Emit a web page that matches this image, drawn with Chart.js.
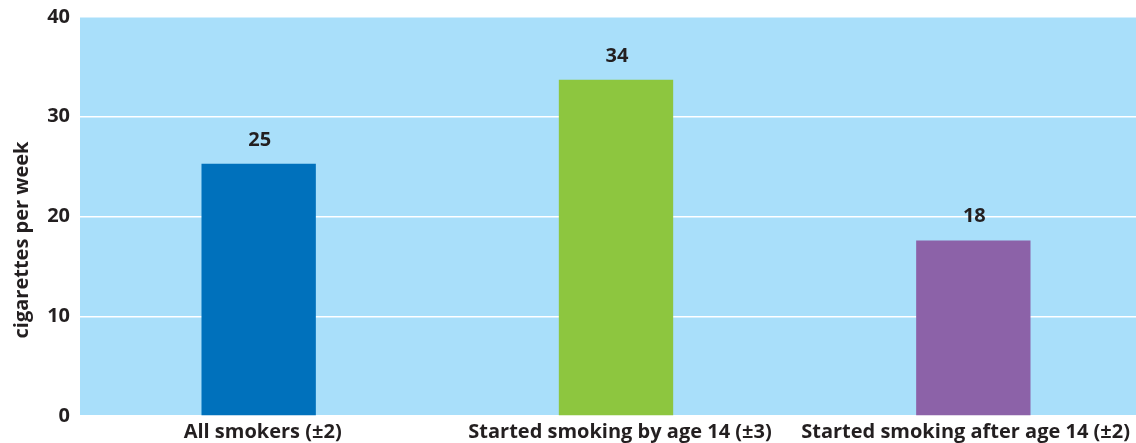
<!DOCTYPE html>
<html lang="en">
<head>
  <meta charset="UTF-8">
  <title>Cigarettes per week</title>
  <script src="https://cdn.jsdelivr.net/npm/chart.js"></script>
  <style>
    html, body { margin: 0; padding: 0; background: #fff; overflow: hidden; }
    /* plot runs a little past the right edge of the picture, as in the original */
    #wrap { width: 1152px; height: 443px; }
  </style>
</head>
<body>
  <div id="wrap"><canvas id="smokeChart"></canvas></div>

  <script>
    const categories = ['All smokers (\u00b12)', 'Started smoking by age 14 (\u00b13)', 'Started smoking after age 14 (\u00b12)'];
    const cigarettes = [25.3, 33.7, 17.6];
    const barColors = ['#0071bc', '#8dc63f', '#8c62a8'];
    const yTicks = [0, 10, 20, 30, 40];
    const yTitle = 'cigarettes per week';

    const FONT = '"Open Sans", "Noto Sans", sans-serif';
    const TEXT = '#231f20';
    const VISIBLE_W = 1136;

    // light blue plot background, value labels, category labels, rotated y title
    const decor = {
      id: 'decor',
      beforeDraw(chart) {
        const { ctx, chartArea: a } = chart;
        ctx.save();
        ctx.fillStyle = '#a9dffa';
        ctx.fillRect(a.left, a.top, a.right - a.left, a.bottom - a.top);
        ctx.restore();
      },
      afterDatasetsDraw(chart) {
        const { ctx, chartArea: a } = chart;
        const xScale = chart.scales.x;
        const meta = chart.getDatasetMeta(0);
        ctx.save();
        ctx.font = `bold 20px ${FONT}`;
        ctx.fillStyle = TEXT;
        ctx.textAlign = 'center';
        ctx.textBaseline = 'alphabetic';
        meta.data.forEach((bar, i) => {
          ctx.fillText(Math.round(cigarettes[i]), bar.x + 1, bar.y - 18);
        });
        // category labels, kept inside the visible width
        categories.forEach((lab, i) => {
          const w = ctx.measureText(lab).width;
          let x = xScale.getPixelForTick(i) + 4;
          x = Math.min(x, VISIBLE_W - 6 - w / 2);
          ctx.fillText(lab, x, a.bottom + 22);
        });
        ctx.translate(22, 240);
        ctx.rotate(-Math.PI / 2);
        ctx.textBaseline = 'middle';
        ctx.fillText(yTitle, 0, 0);
        ctx.restore();
      }
    };

    new Chart(document.getElementById('smokeChart'), {
      type: 'bar',
      data: {
        labels: categories,
        datasets: [{
          data: cigarettes,
          backgroundColor: barColors,
          categoryPercentage: 1,
          barPercentage: 0.32
        }]
      },
      options: {
        responsive: true,
        maintainAspectRatio: false,
        animation: false,
        layout: { padding: { top: 17, right: 0, left: 0, bottom: 0 } },
        plugins: {
          legend: { display: false },
          tooltip: { enabled: false }
        },
        scales: {
          x: {
            grid: { display: false, drawTicks: false },
            border: { display: false },
            ticks: { display: false },
            afterFit(scale) { scale.height = 27; scale.paddingLeft = 0; scale.paddingRight = 0; }
          },
          y: {
            min: 0,
            max: 40,
            afterBuildTicks(scale) { scale.ticks = yTicks.map(v => ({ value: v })); },
            grid: { color: '#ffffff', lineWidth: 1.5, drawTicks: false },
            border: { display: false },
            ticks: {
              color: TEXT,
              font: { family: FONT, size: 20, weight: 'bold' },
              padding: 10
            },
            afterFit(scale) { scale.width = 80; scale.paddingTop = 0; scale.paddingBottom = 0; }
          }
        }
      },
      plugins: [decor]
    });
  </script>
</body>
</html>
